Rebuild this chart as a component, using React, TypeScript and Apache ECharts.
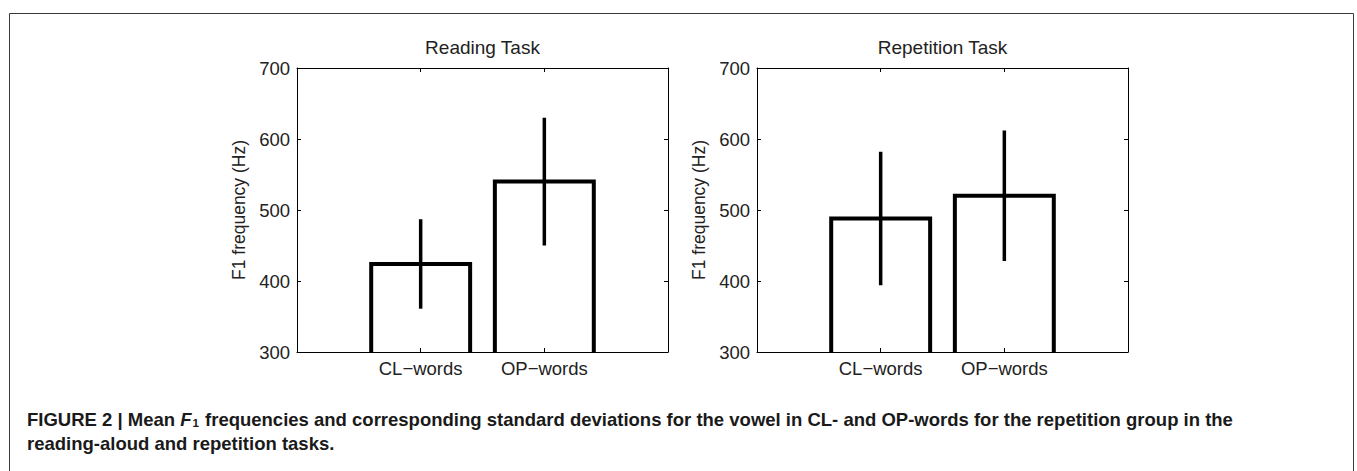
import React, { useEffect, useRef } from "react";
import * as echarts from "echarts";

const categories = ["CL−words", "OP−words"];
const readingMeans = [424, 540];
const readingSD = [63, 90];
const repetitionMeans = [488, 520];
const repetitionSD = [94, 92];
const panelTitles = ["Reading Task", "Repetition Task"];
const yMin = 300;
const yMax = 700;
const yStep = 100;
const yName = "F1 frequency (Hz)";
const captionLine1 = [
  "FIGURE 2 | Mean ",
  "F",
  "1",
  " frequencies and corresponding standard deviations for the vowel in CL- and OP-words for the repetition group in the",
];
const captionLine2 = "reading-aloud and repetition tasks.";

const FONT = "'Liberation Sans', Arial, Helvetica, sans-serif";
const TXT = "#222";
const CAP = "#1a1a1a";
const BAR_W = 0.8;
const CAP_FS = 18.5;

export default function App() {
  const ref = useRef<HTMLDivElement>(null);
  useEffect(() => {
    if (!ref.current) return;
    const chart = echarts.init(ref.current, null, { renderer: "svg" });
    const grids = [
      { left: 297, top: 68, width: 371, height: 284 },
      { left: 757, top: 68, width: 371, height: 284 },
    ];
    const xAxes: any[] = [];
    const yAxes: any[] = [];
    const series: any[] = [];
    const panels = [
      { means: readingMeans, sd: readingSD },
      { means: repetitionMeans, sd: repetitionSD },
    ];
    grids.forEach((_, gi) => {
      const base = {
        gridIndex: gi,
        type: "value",
        min: 0,
        max: categories.length + 1,
        interval: 1,
        splitLine: { show: false },
        axisLine: { show: true, onZero: false, lineStyle: { color: "#000", width: 1 } },
        axisTick: { show: true, inside: true, length: 4, lineStyle: { color: "#000" } },
      };
      xAxes.push({
        ...base,
        position: "bottom",
        axisLabel: {
          show: true,
          margin: 7,
          fontSize: 18.5,
          fontFamily: FONT,
          color: TXT,
          formatter: (v: number) => (v >= 1 && v <= categories.length ? categories[v - 1] : ""),
        },
      });
      xAxes.push({ ...base, position: "top", axisLabel: { show: false } });
      const ybase = {
        gridIndex: gi,
        type: "value",
        min: yMin,
        max: yMax,
        interval: yStep,
        splitLine: { show: false },
        axisLine: { show: true, onZero: false, lineStyle: { color: "#000", width: 1 } },
        axisTick: { show: true, inside: true, length: 4, lineStyle: { color: "#000" } },
      };
      yAxes.push({
        ...ybase,
        position: "left",
        name: yName,
        nameLocation: "middle",
        nameGap: 49,
        nameTextStyle: { fontSize: 17.5, fontFamily: FONT, color: TXT },
        axisLabel: { show: true, margin: 7, fontSize: 18.5, fontFamily: FONT, color: TXT },
      });
      yAxes.push({ ...ybase, position: "right", axisLabel: { show: false } });

      const p = panels[gi];
      series.push({
        type: "custom",
        xAxisIndex: gi * 2,
        yAxisIndex: gi * 2,
        encode: { x: 0, y: 1 },
        clip: true,
        z: 3,
        data: p.means.map((m, i) => [i + 1, m]),
        renderItem: (params: any, api: any) => {
          const x = api.value(0);
          const v = api.value(1);
          const pts = [
            api.coord([x - BAR_W / 2, yMin]),
            api.coord([x - BAR_W / 2, v]),
            api.coord([x + BAR_W / 2, v]),
            api.coord([x + BAR_W / 2, yMin]),
          ];
          return {
            type: "polyline",
            shape: { points: pts },
            style: { stroke: "#000", lineWidth: 4, fill: null, lineJoin: "miter" },
          };
        },
      });
      series.push({
        type: "custom",
        xAxisIndex: gi * 2,
        yAxisIndex: gi * 2,
        encode: { x: 0, y: [1, 2] },
        z: 4,
        data: p.means.map((m, i) => [i + 1, m - p.sd[i], m + p.sd[i]]),
        renderItem: (params: any, api: any) => {
          const x = api.value(0);
          const a = api.coord([x, api.value(1)]);
          const b = api.coord([x, api.value(2)]);
          return {
            type: "line",
            shape: { x1: a[0], y1: a[1], x2: b[0], y2: b[1] },
            style: { stroke: "#000", lineWidth: 3.5 },
          };
        },
      });
    });

    chart.setOption({
      animation: false,
      backgroundColor: "#fff",
      grid: grids,
      xAxis: xAxes,
      yAxis: yAxes,
      series,
      graphic: [
        {
          type: "rect",
          shape: { x: 9.5, y: 13.5, width: 1344, height: 470 },
          style: { fill: null, stroke: "#3a3a3a", lineWidth: 1 },
          silent: true,
        },
        ...panelTitles.map((t, i) => ({
          type: "text",
          x: grids[i].left + grids[i].width / 2,
          y: 47,
          style: {
            text: t,
            fontSize: 19,
            fontFamily: FONT,
            fill: TXT,
            align: "center",
            verticalAlign: "middle",
          },
        })),
        {
          type: "text",
          x: 27,
          y: 418,
          style: {
            text:
              "{b|" + captionLine1[0] + "}{i|" + captionLine1[1] + "}{s|" + captionLine1[2] + "}{b|" + captionLine1[3] + "}",
            verticalAlign: "middle",
            align: "left",
            rich: {
              b: { fontSize: CAP_FS, fontWeight: "bold", fontFamily: FONT, fill: CAP, verticalAlign: "bottom", lineHeight: 21 },
              i: { fontSize: CAP_FS, fontWeight: "bold", fontStyle: "italic", fontFamily: FONT, fill: CAP, verticalAlign: "bottom", lineHeight: 21 },
              s: { fontSize: 11.5, fontWeight: "bold", fontFamily: FONT, fill: CAP, verticalAlign: "bottom", lineHeight: 19, padding: [0, 1, 0, 1] },
            },
          },
        },
        {
          type: "text",
          x: 27,
          y: 443,
          style: {
            text: captionLine2,
            fontSize: CAP_FS,
            fontWeight: "bold",
            fontFamily: FONT,
            fill: CAP,
            align: "left",
            verticalAlign: "middle",
          },
        },
      ],
    });
    return () => chart.dispose();
  }, []);
  return (
    <div
      ref={ref}
      style={{ position: "fixed", left: 0, top: 0, width: 1357, height: 471, background: "#fff" }}
    />
  );
}
